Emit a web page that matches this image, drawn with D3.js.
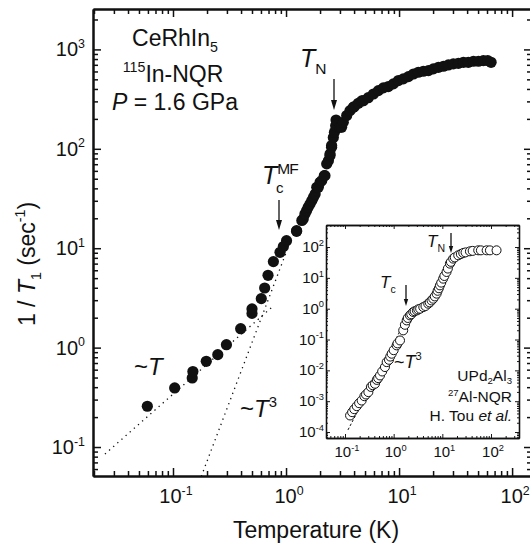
<!DOCTYPE html>
<html><head><meta charset="utf-8">
<script src="https://cdn.jsdelivr.net/npm/d3@7"></script>
<style>
body{margin:0;background:#fff;}
svg{display:block;font-family:"Liberation Sans",Arial,Helvetica,sans-serif;}
</style>
</head><body>
<svg id="c" width="530" height="546"></svg>
<script>
// ---------------- data ----------------
// CeRhIn5, 115In-NQR, P = 1.6 GPa : temperature (K) and 1/T1 (1/s)
const mainT = [0.0593,0.1035,0.148,0.150,0.197,0.249,0.297,0.397,0.50,0.50,0.604,0.647,0.693,
  0.773,0.885,0.947,1.01,1.24,1.24,1.38,1.42,1.47,1.52,1.57,1.63,1.69,1.75,1.81,1.87,1.93,2.0,2.07,
  2.18,2.21,2.29,2.37,2.45,2.45,2.53,2.53,2.62,2.68,2.75,2.77,3.0,3.1,3.21,3.44,3.68,3.94,4.02,4.36,
  4.67,4.83,5.34,5.93,6.56,7.26,8.03,8.9,9.86,10.9,12.1,13.4,14.8,16.4,18.2,20.1,22.3,24.7,27.3,30.2,
  33.5,37.1,41.0,45.5,50.4,55.7,60.9,65.2];
const mainR = [0.257,0.393,0.495,0.574,0.728,0.85,1.07,1.55,2.21,2.45,3.11,3.98,5.34,
  7.33,9.1,10.4,11.9,14.8,15.0,19.0,19.7,22.1,23.9,25.8,27.9,30.1,32.5,35.1,41,41,46,47.9,
  53.7,53.7,70.5,76,85.5,88.7,103.6,108,130,147,171,195,165,165,185,216,242,262,266,287,
  303,305,327,356,385,410,423,450,486,505,532,566,589,603,612,637,661,677,698,715,
  725,742,742,760,760,771,771,742];
// UPd2Al3, 27Al-NQR (H. Tou et al.) : inset
const insetT = [0.127,0.14,0.155,0.174,0.195,0.22,0.25,0.27,0.302,0.34,0.37,0.413,0.45,0.48,0.524,0.58,
  0.662,0.718,0.80,0.85,0.910,1.0,1.15,1.2,1.35,1.57,1.7,1.85,1.95,2.16,2.3,2.52,2.7,3.0,3.2,3.5,
  4.06,4.5,5.13,5.5,6.0,6.5,7.0,7.64,8.0,8.5,8.93,9.5,10.4,11.0,12.2,13.0,14.3,15.0,16.7,18.0,21.2,
  24.0,26.9,30.0,36.9,42.0,54.6,62.0,81.3,95.0,130];
const insetR = [3.44e-4,4.4e-4,5.5e-4,6.9e-4,8.6e-4,1.05e-3,1.45e-3,1.65e-3,1.97e-3,2.9e-3,3.3e-3,3.67e-3,4.9e-3,5.6e-3,6.84e-3,9.2e-3,
  0.0128,0.0185,0.022,0.028,0.0346,0.045,0.0646,0.075,0.0933,0.198,0.30,0.417,0.50,0.607,0.66,0.78,0.83,0.88,0.951,1.0,
  1.13,1.22,1.45,1.6,1.85,2.11,2.5,3.07,3.8,4.6,5.71,7.0,9.42,11.5,15.5,20,28.9,33,42.0,46,53.8,
  59,64.3,67,72.6,75,78.2,78,78.2,78,78.2];
// guide lines (end points)
const fitLinT = [0.025, 0.75], fitLinR = [0.085, 2.55];      // ~T
const fitCubT = [0.178, 1.0],  fitCubR = [0.0507, 9.0];      // ~T^3
const insetFitT = [0.115, 1.6], insetFitR = [1.17e-4, 0.314]; // ~T^3 (inset)
// tick labels
const mainXTicks = [0.1, 1, 10, 100];
const mainYTicks = [0.1, 1, 10, 100, 1000];
const insetXTicks = [0.1, 1, 10, 100];
const insetYTicks = [1e-4, 1e-3, 1e-2, 1e-1, 1, 10, 100];

// ---------------- drawing ----------------
const svg = d3.select("#c");
const x = d3.scaleLog().domain([0.0196, 150]).range([93, 532]);
const y = d3.scaleLog().domain([0.0511, 2550]).range([476, 9]);
const xi = d3.scaleLog().domain([0.0407, 376]).range([326, 519]);
const yi = d3.scaleLog().domain([6.4e-5, 518]).range([438, 225]);

function minors(scale){
  const [a,b] = scale.domain(); const out=[];
  for(let e=Math.floor(Math.log10(a)); e<=Math.ceil(Math.log10(b)); e++){
    for(let m=2;m<=9;m++){ const v=m*Math.pow(10,e); if(v>=a&&v<=b) out.push(v); }
  }
  return out;
}
function majors(scale){
  const [a,b] = scale.domain(); const out=[];
  for(let e=Math.floor(Math.log10(a)); e<=Math.ceil(Math.log10(b)); e++){
    const v=Math.pow(10,e); if(v>=a&&v<=b) out.push(v);
  }
  return out;
}
function drawAxes(g, sx, sy, majLen, minLen, sw){
  const [x0,x1]=sx.range(), [y0,y1]=sy.range();
  const defs=[
    [d3.axisBottom, sx, `translate(0,${y0})`],
    [d3.axisTop, sx, `translate(0,${y1})`],
    [d3.axisLeft, sy, `translate(${x0},0)`],
    [d3.axisRight, sy, `translate(${x1},0)`]
  ];
  defs.forEach(([fn, s, tr])=>{
    const a1 = g.append("g").attr("transform",tr)
      .call(fn(s).tickValues(minors(s)).tickSize(-minLen).tickSizeOuter(0).tickFormat(""));
    const a2 = g.append("g").attr("transform",tr)
      .call(fn(s).tickValues(majors(s)).tickSize(-majLen).tickSizeOuter(0).tickFormat(""));
    [a1,a2].forEach(a=>{
      a.selectAll("line").attr("stroke","#111").attr("stroke-width",sw*0.75);
      a.selectAll("path").attr("stroke","#111").attr("stroke-width",sw);
    });
  });
}
// rich text: parts = [{t, sup, sub, it}]
function rich(g, px, py, parts, fs, anchor, supK, subK){
  supK = supK || 0.42; subK = subK || 0.28;
  const t = g.append("text").attr("x",px).attr("y",py).attr("font-size",fs)
    .attr("text-anchor",anchor||"start").attr("fill","#111");
  let cur=0;
  parts.forEach(p=>{
    let target=0, size=fs;
    if(p.sup){ target=-supK*fs; size=0.62*fs; }
    if(p.sub){ target=subK*fs; size=0.62*fs; }
    const ts=t.append("tspan").text(p.t).attr("font-size",size).attr("dy",target-cur);
    if(p.it) ts.attr("font-style","italic");
    if(p.ls) ts.attr("letter-spacing",p.ls);
    cur=target;
  });
  return t;
}
function arrow(g, px, y0, y1, hw, hl){
  g.append("line").attr("x1",px).attr("x2",px).attr("y1",y0).attr("y2",y1-hl+1)
    .attr("stroke","#111").attr("stroke-width",1.3);
  g.append("path").attr("d",`M${px-hw},${y1-hl}L${px+hw},${y1-hl}L${px},${y1}Z`).attr("fill","#111");
}

// clip for main plot
svg.append("defs").append("clipPath").attr("id","mc").append("rect")
  .attr("x",93).attr("y",9).attr("width",439).attr("height",467);

const main = svg.append("g");
// guide lines
const lineMain = d3.line().x(d=>x(d[0])).y(d=>y(d[1]));
main.append("path").datum(d3.zip(fitLinT, fitLinR)).attr("d",lineMain)
  .attr("clip-path","url(#mc)").attr("fill","none").attr("stroke","#111").attr("stroke-width",1.3)
  .attr("stroke-dasharray","1.3,4.2");
main.append("path").datum(d3.zip(fitCubT, fitCubR)).attr("d",lineMain)
  .attr("clip-path","url(#mc)").attr("fill","none").attr("stroke","#111").attr("stroke-width",1.3)
  .attr("stroke-dasharray","1.3,4.2");
// points
main.append("g").selectAll("circle").data(d3.zip(mainT, mainR)).join("circle")
  .attr("cx",d=>x(d[0])).attr("cy",d=>y(d[1])).attr("r",5.6).attr("fill","#111");

drawAxes(main, x, y, 8, 5, 2);

// tick labels
mainYTicks.forEach(v=>{
  rich(main, 85, y(v)+7, [{t:"10"},{t:String(Math.round(Math.log10(v))),sup:true}], 20, "end");
});
mainXTicks.forEach(v=>{
  rich(main, x(v)+3, 503, [{t:"10"},{t:String(Math.round(Math.log10(v))),sup:true}], 20, "middle");
});
// axis titles
rich(main, 316, 538, [{t:"Temperature (K)"}], 23, "middle");
const yl = main.append("g").attr("transform","translate(35,264) rotate(-90)");
rich(yl, 0, 0, [{t:"1 / "},{t:"T",it:true},{t:"1",sub:true},{t:" (sec"},{t:"-1",sup:true},{t:")"}], 23, "middle");

// text block
rich(main, 175, 46, [{t:"CeRhIn"},{t:"5",sub:true}], 23, "middle");
rich(main, 173, 82, [{t:"115",sup:true},{t:"In-NQR"}], 23, "middle");
rich(main, 175, 110, [{t:"P",it:true},{t:" = 1.6 GPa"}], 23, "middle");

// annotations
rich(main, 300, 67, [{t:"T",it:true},{t:"N",sub:true}], 25, "start");
arrow(main, 334, 79, 110, 3, 10);
rich(main, 262, 184, [{t:"T",it:true},{t:"MF",sup:true,ls:-1}], 25, "start");
rich(main, 276, 193, [{t:"c"}], 15, "start");
arrow(main, 279, 200, 230, 3, 10);
rich(main, 134, 375, [{t:"~"},{t:"T",it:true}], 24, "start");
rich(main, 240, 417, [{t:"~"},{t:"T",it:true},{t:"3",sup:true}], 24, "start");

// ---------------- inset ----------------
const ins = svg.append("g");
ins.append("rect").attr("x",326).attr("y",225).attr("width",193).attr("height",213).attr("fill","#fff");
const lineIns = d3.line().x(d=>xi(d[0])).y(d=>yi(d[1]));
ins.append("path").datum(d3.zip(insetFitT, insetFitR)).attr("d",lineIns)
  .attr("fill","none").attr("stroke","#111").attr("stroke-width",1).attr("stroke-dasharray","2.5,2");
ins.append("g").selectAll("circle").data(d3.zip(insetT, insetR)).join("circle")
  .attr("cx",d=>xi(d[0])).attr("cy",d=>yi(d[1])).attr("r",4.5)
  .attr("fill","#fff").attr("stroke","#111").attr("stroke-width",1);
drawAxes(ins, xi, yi, 4, 2, 1.3);
insetYTicks.forEach(v=>{
  rich(ins, 324, yi(v)+5, [{t:"10"},{t:String(Math.round(Math.log10(v))),sup:true}], 15, "end");
});
insetXTicks.forEach(v=>{
  rich(ins, xi(v)+2, 457, [{t:"10"},{t:String(Math.round(Math.log10(v))),sup:true}], 15, "middle");
});
rich(ins, 427, 247, [{t:"T",it:true},{t:"N",sub:true}], 17, "start");
arrow(ins, 451, 233, 253, 2.2, 7);
rich(ins, 380, 288, [{t:"T",it:true},{t:"c",sub:true}], 17, "start");
arrow(ins, 406, 285, 306, 2.2, 7);
rich(ins, 394, 368, [{t:"~"},{t:"T",it:true},{t:"3",sup:true}], 18, "start");
rich(ins, 512, 381, [{t:"UPd"},{t:"2",sub:true},{t:"Al"},{t:"3",sub:true}], 15.5, "end", 0.38, 0.22);
rich(ins, 512, 402, [{t:"27",sup:true},{t:"Al-NQR"}], 15.5, "end", 0.38, 0.22);
rich(ins, 512, 421, [{t:"H. Tou "},{t:"et al.",it:true}], 15.5, "end", 0.38, 0.22);
</script>
</body></html>
